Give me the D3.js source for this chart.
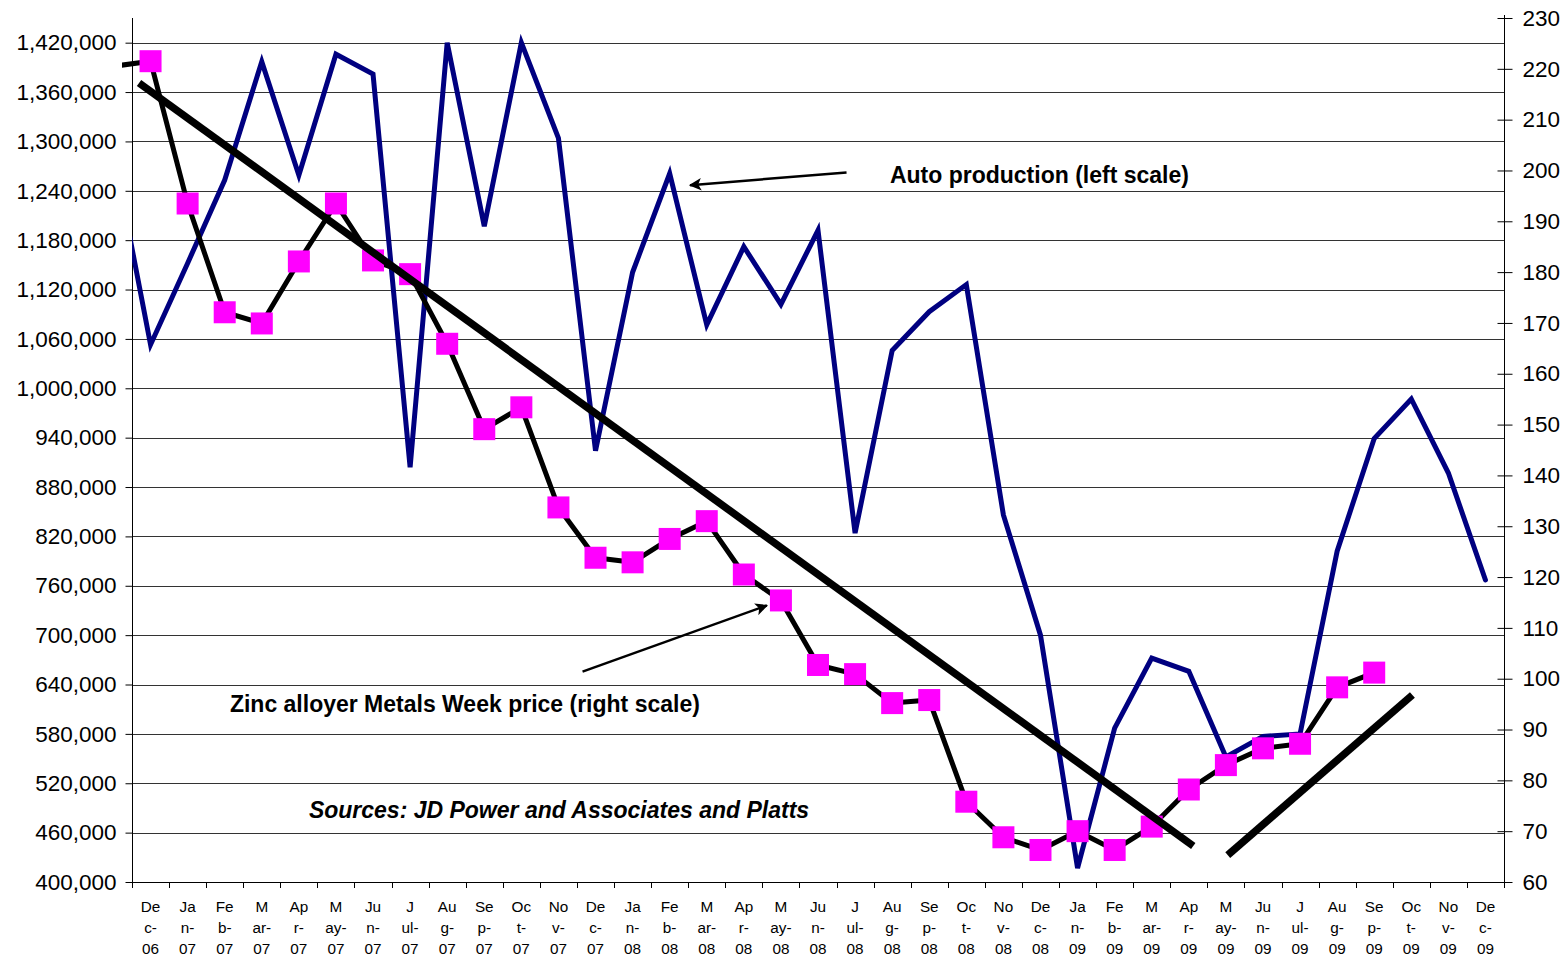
<!DOCTYPE html>
<html>
<head>
<meta charset="utf-8">
<script src="https://cdn.jsdelivr.net/npm/d3@7"></script>
<style>
  body { margin: 0; background: #fff; }
  svg { display: block; font-family: Arial, "Liberation Sans", sans-serif; }
</style>
</head>
<body>
<svg id="chart" width="1565" height="959"></svg>
<script>
// months Dec-06 .. Dec-09
const categories = [
  'Dec-06', 'Jan-07', 'Feb-07', 'Mar-07', 'Apr-07', 'May-07', 'Jun-07', 'Jul-07', 'Aug-07', 'Sep-07', 'Oct-07', 'Nov-07',
  'Dec-07', 'Jan-08', 'Feb-08', 'Mar-08', 'Apr-08', 'May-08', 'Jun-08', 'Jul-08', 'Aug-08', 'Sep-08', 'Oct-08', 'Nov-08',
  'Dec-08', 'Jan-09', 'Feb-09', 'Mar-09', 'Apr-09', 'May-09', 'Jun-09', 'Jul-09', 'Aug-09', 'Sep-09', 'Oct-09', 'Nov-09',
  'Dec-09'
];
// how excel wrapped the month names
const monthWrap = {
  Jan: ['Ja', 'n-'], Feb: ['Fe', 'b-'], Mar: ['M', 'ar-'], Apr: ['Ap', 'r-'], May: ['M', 'ay-'], Jun: ['Ju', 'n-'],
  Jul: ['J', 'ul-'], Aug: ['Au', 'g-'], Sep: ['Se', 'p-'], Oct: ['Oc', 't-'], Nov: ['No', 'v-'], Dec: ['De', 'c-']
};

// auto production, left scale (first value is Nov-06, only its segment shows)
const autoPrev = 1287000;
const autoProduction = [
  1053000, 1152000, 1253000, 1397000, 1259000, 1406000, 1382000, 904000, 1420000, 1197000, 1420000, 1304000,
  924000, 1141000, 1261000, 1077000, 1172000, 1102000, 1192000, 824000, 1046000, 1093000, 1126000, 846000,
  700000, 417000, 587000, 672000, 656000, 552000, 577000, 580000, 802000, 939000, 987000, 897000,
  767000
];

// zinc alloyer price, right scale
const zincPrev = 220.5;
const zincPrice = [
  221.5, 193.5, 172.1, 169.9, 182.1, 193.5, 182.3, 179.6, 165.9, 149.1, 153.4, 133.7,
  123.8, 122.9, 127.5, 131.0, 120.5, 115.4, 102.7, 100.9, 95.2, 95.8, 75.8, 68.8,
  66.3, 70.0, 66.3, 70.9, 78.2, 83.0, 86.3, 87.2, 98.3, 101.2, null, null,
  null
];

const leftTicks = d3.range(400000, 1420001, 60000);
const rightTicks = d3.range(60, 231, 10);

// hand drawn trend lines and arrows, in (category index, right-scale value)
const trendLines = [
  [[-0.31, 217.2], [28.12, 67.1]],
  [[29.05, 65.3], [34.03, 96.8]]
];
const arrows = [
  [[18.77, 199.6], [14.55, 197.1]],
  [[11.65, 101.4], [16.62, 114.4]]
];
const notes = [
  { i: 19.94, v: 197.5, text: 'Auto production (left scale)', italic: false },
  { i: 2.14, v: 93.4, text: 'Zinc alloyer Metals Week price (right scale)', italic: false },
  { i: 4.27, v: 72.6, text: 'Sources: JD Power and Associates and Platts', italic: true }
];

const svg = d3.select('#chart');
const plotLeft = 132, plotRight = 1504, plotTop = 18, plotBottom = 882;

const xi = d3.scaleLinear().domain([-0.5, categories.length - 0.5]).range([plotLeft, plotRight]);
const yL = d3.scaleLinear().domain([400000, 1450000]).range([plotBottom, plotTop]);
const yR = d3.scaleLinear().domain([60, 230]).range([plotBottom, plotTop]);

const defs = svg.append('defs');
defs.append('clipPath').attr('id', 'plotClip')
  .append('rect').attr('x', plotLeft).attr('y', 0).attr('width', plotRight - plotLeft).attr('height', 959);
defs.append('clipPath').attr('id', 'zincClip')
  .append('rect').attr('x', xi(-0.77)).attr('y', 0).attr('width', plotRight - xi(-0.77)).attr('height', 959);
defs.append('marker')
  .attr('id', 'head')
  .attr('viewBox', '0 0 10 10')
  .attr('refX', 9).attr('refY', 5)
  .attr('markerWidth', 6).attr('markerHeight', 5)
  .attr('markerUnits', 'strokeWidth')
  .attr('orient', 'auto')
  .append('path').attr('d', 'M0,0 L10,5 L0,10 L2.5,5 Z').attr('fill', '#000');

// gridlines
svg.append('g')
  .selectAll('line')
  .data(leftTicks.slice(1))
  .enter()
  .append('line')
  .attr('x1', plotLeft).attr('x2', plotRight)
  .attr('y1', d => Math.round(yL(d)) + 0.5)
  .attr('y2', d => Math.round(yL(d)) + 0.5)
  .attr('stroke', '#333')
  .attr('stroke-width', 1);

// left axis
const leftAxis = d3.axisLeft(yL)
  .tickValues(leftTicks)
  .tickSize(7)
  .tickPadding(9)
  .tickFormat(d3.format(','));
const gL = svg.append('g').attr('transform', 'translate(' + (plotLeft + 0.5) + ',0)').call(leftAxis);
gL.select('.domain').attr('d', 'M0,' + plotTop + 'V' + plotBottom);
gL.selectAll('text').attr('font-size', 22.5).attr('fill', '#000').attr('font-family', 'Arial, "Liberation Sans", sans-serif');

// right axis, ticks cross the line
const rightAxis = d3.axisRight(yR)
  .tickValues(rightTicks)
  .tickSize(8)
  .tickPadding(10);
const gR = svg.append('g').attr('transform', 'translate(' + (plotRight + 0.5) + ',0)').call(rightAxis);
gR.select('.domain').attr('d', 'M0,' + (plotTop - 3) + 'V' + plotBottom);
gR.selectAll('.tick line').attr('x1', -7);
gR.selectAll('text').attr('font-size', 22.5).attr('fill', '#000').attr('font-family', 'Arial, "Liberation Sans", sans-serif');

// x axis
const gX = svg.append('g');
gX.append('line')
  .attr('x1', plotLeft).attr('x2', plotRight + 8)
  .attr('y1', plotBottom + 0.5).attr('y2', plotBottom + 0.5)
  .attr('stroke', '#000');
gX.selectAll('line.tick')
  .data(d3.range(0, categories.length + 1))
  .enter()
  .append('line')
  .attr('class', 'tick')
  .attr('x1', k => Math.round(xi(k - 0.5)) + 0.5)
  .attr('x2', k => Math.round(xi(k - 0.5)) + 0.5)
  .attr('y1', plotBottom).attr('y2', plotBottom + 6)
  .attr('stroke', '#000');
const labels = gX.selectAll('text')
  .data(categories)
  .enter()
  .append('text')
  .attr('text-anchor', 'middle')
  .attr('font-size', 15.3)
  .attr('fill', '#000');
labels.each(function(d, i) {
  const parts = d.split('-');
  const lines = monthWrap[parts[0]].concat([parts[1]]);
  d3.select(this).selectAll('tspan')
    .data(lines)
    .enter()
    .append('tspan')
    .attr('x', xi(i))
    .attr('y', (t, j) => 912 + j * 21)
    .text(t => t);
});

// auto production line
const autoPts = [[-1, autoPrev]].concat(autoProduction.map((v, i) => [i, v]));
svg.append('path')
  .datum(autoPts)
  .attr('clip-path', 'url(#plotClip)')
  .attr('fill', 'none')
  .attr('stroke', '#000080')
  .attr('stroke-width', 5)
  .attr('stroke-linejoin', 'miter')
  .attr('stroke-linecap', 'round')
  .attr('d', d3.line().x(d => xi(d[0])).y(d => yL(d[1])));

// zinc price line + markers
const zincPts = [[-1, zincPrev]].concat(zincPrice.map((v, i) => [i, v]));
svg.append('path')
  .datum(zincPts)
  .attr('clip-path', 'url(#zincClip)')
  .attr('fill', 'none')
  .attr('stroke', '#000')
  .attr('stroke-width', 5)
  .attr('stroke-linejoin', 'round')
  .attr('d', d3.line().defined(d => d[1] !== null).x(d => xi(d[0])).y(d => yR(d[1])));

const ms = 22;
svg.append('g')
  .selectAll('rect')
  .data(zincPrice.map((v, i) => [i, v]).filter(d => d[1] !== null))
  .enter()
  .append('rect')
  .attr('x', d => xi(d[0]) - ms / 2)
  .attr('y', d => yR(d[1]) - ms / 2)
  .attr('width', ms).attr('height', ms)
  .attr('fill', '#ff00ff');

// trend lines
svg.append('g')
  .selectAll('line')
  .data(trendLines)
  .enter()
  .append('line')
  .attr('x1', d => xi(d[0][0])).attr('y1', d => yR(d[0][1]))
  .attr('x2', d => xi(d[1][0])).attr('y2', d => yR(d[1][1]))
  .attr('stroke', '#000')
  .attr('stroke-width', 7.5);

// arrows
svg.append('g')
  .selectAll('line')
  .data(arrows)
  .enter()
  .append('line')
  .attr('x1', d => xi(d[0][0])).attr('y1', d => yR(d[0][1]))
  .attr('x2', d => xi(d[1][0])).attr('y2', d => yR(d[1][1]))
  .attr('stroke', '#000')
  .attr('stroke-width', 2.5)
  .attr('marker-end', 'url(#head)');

// notes
svg.append('g')
  .selectAll('text')
  .data(notes)
  .enter()
  .append('text')
  .attr('x', d => xi(d.i))
  .attr('y', d => yR(d.v))
  .attr('font-size', 23)
  .attr('font-weight', 'bold')
  .attr('font-style', d => d.italic ? 'italic' : 'normal')
  .attr('fill', '#000')
  .text(d => d.text);
</script>
</body>
</html>
